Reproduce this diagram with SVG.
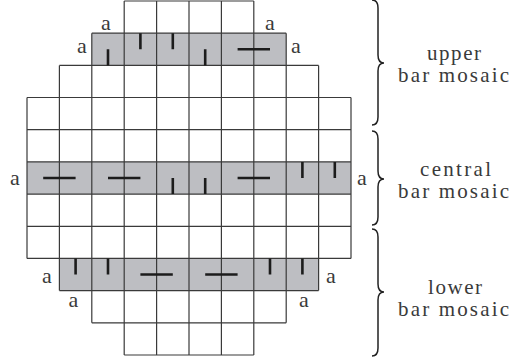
<svg xmlns="http://www.w3.org/2000/svg" width="513" height="361" viewBox="0 0 513 361">
<style>
.band{fill:#bdbec2;stroke:none}
.grid{fill:none;stroke:#3a3a3a;stroke-width:1.2}
.bar{stroke:#1c1c1c;stroke-width:2.6;fill:none}
.lbl{font-family:"Liberation Serif","Times New Roman",serif;font-size:21px;fill:#3a3a3a;text-anchor:middle}
.a{font-family:"Liberation Serif","Times New Roman",serif;font-size:22px;fill:#3a3a3a;text-anchor:middle}
.brace{fill:none;stroke:#222;stroke-width:1.5}
</style>
<rect width="513" height="361" fill="#fff"/>
<g id="mosaic">
<rect class="band" x="91.8" y="33.2" width="194.4" height="32.2"/>
<rect class="band" x="27" y="161.9" width="324" height="32.2"/>
<rect class="band" x="59.4" y="258.4" width="259.2" height="32.2"/>
<path class="grid" d="M124.2,1H253.8M91.8,33.2H286.2M59.4,65.4H318.6M27,97.5H351M27,129.7H351M27,161.9H351M27,194.1H351M27,226.3H351M27,258.4H351M59.4,290.6H318.6M91.8,322.8H286.2M124.2,355H253.8M27,97.5V258.4M351,97.5V258.4M59.4,65.4V290.6M318.6,65.4V290.6M91.8,33.2V322.8M286.2,33.2V322.8M124.2,1V355M156.6,1V355M189,1V355M221.4,1V355M253.8,1V355"/>
</g>
<g id="bars">
<path class="bar" d="M108,49.3V65.4M140.4,33.2V49.3M172.8,33.2V49.3M205.2,49.3V65.4M237.6,49.3H270"/>
<path class="bar" d="M43.2,178H75.6M108,178H140.4M172.8,178V194.1M205.2,178V194.1M237.6,178H270M302.4,161.9V178M334.8,161.9V178"/>
<path class="bar" d="M75.6,258.4V274.5M108,258.4V274.5M140.4,274.5H172.8M205.2,274.5H237.6M270,258.4V274.5M302.4,258.4V274.5"/>
</g>
<g id="a-labels">
<text class="a" x="106" y="29.5">a</text>
<text class="a" x="82" y="53">a</text>
<text class="a" x="270" y="29.5">a</text>
<text class="a" x="296" y="53">a</text>
<text class="a" x="15" y="184.5">a</text>
<text class="a" x="362" y="184.5">a</text>
<text class="a" x="47" y="283">a</text>
<text class="a" x="331" y="283">a</text>
<text class="a" x="73.5" y="307">a</text>
<text class="a" x="304" y="307">a</text>
</g>
<g id="braces">
<path class="brace" d="M372,0Q378,0 378,8L378,55Q378,63 384,63Q378,63 378,71L378,117Q378,125 372,125"/>
<path class="brace" d="M372,131Q378,131 378,139L378,171Q378,179 384,179Q378,179 378,187L378,217Q378,225 372,225"/>
<path class="brace" d="M372,229Q378,229 378,237L378,284Q378,292 384,292Q378,292 378,300L378,348Q378,356 372,356"/>
</g>
<g id="upper-label">
<text class="lbl" x="454" y="59.5" textLength="54" lengthAdjust="spacing">upper</text>
<text class="lbl" x="453.5" y="82" textLength="111" lengthAdjust="spacing">bar mosaic</text>
</g>
<g id="central-label">
<text class="lbl" x="455.5" y="175.5" textLength="71" lengthAdjust="spacing">central</text>
<text class="lbl" x="453.5" y="197.5" textLength="111" lengthAdjust="spacing">bar mosaic</text>
</g>
<g id="lower-label">
<text class="lbl" x="455" y="293.5" textLength="54" lengthAdjust="spacing">lower</text>
<text class="lbl" x="453.5" y="315.5" textLength="111" lengthAdjust="spacing">bar mosaic</text>
</g>
</svg>
